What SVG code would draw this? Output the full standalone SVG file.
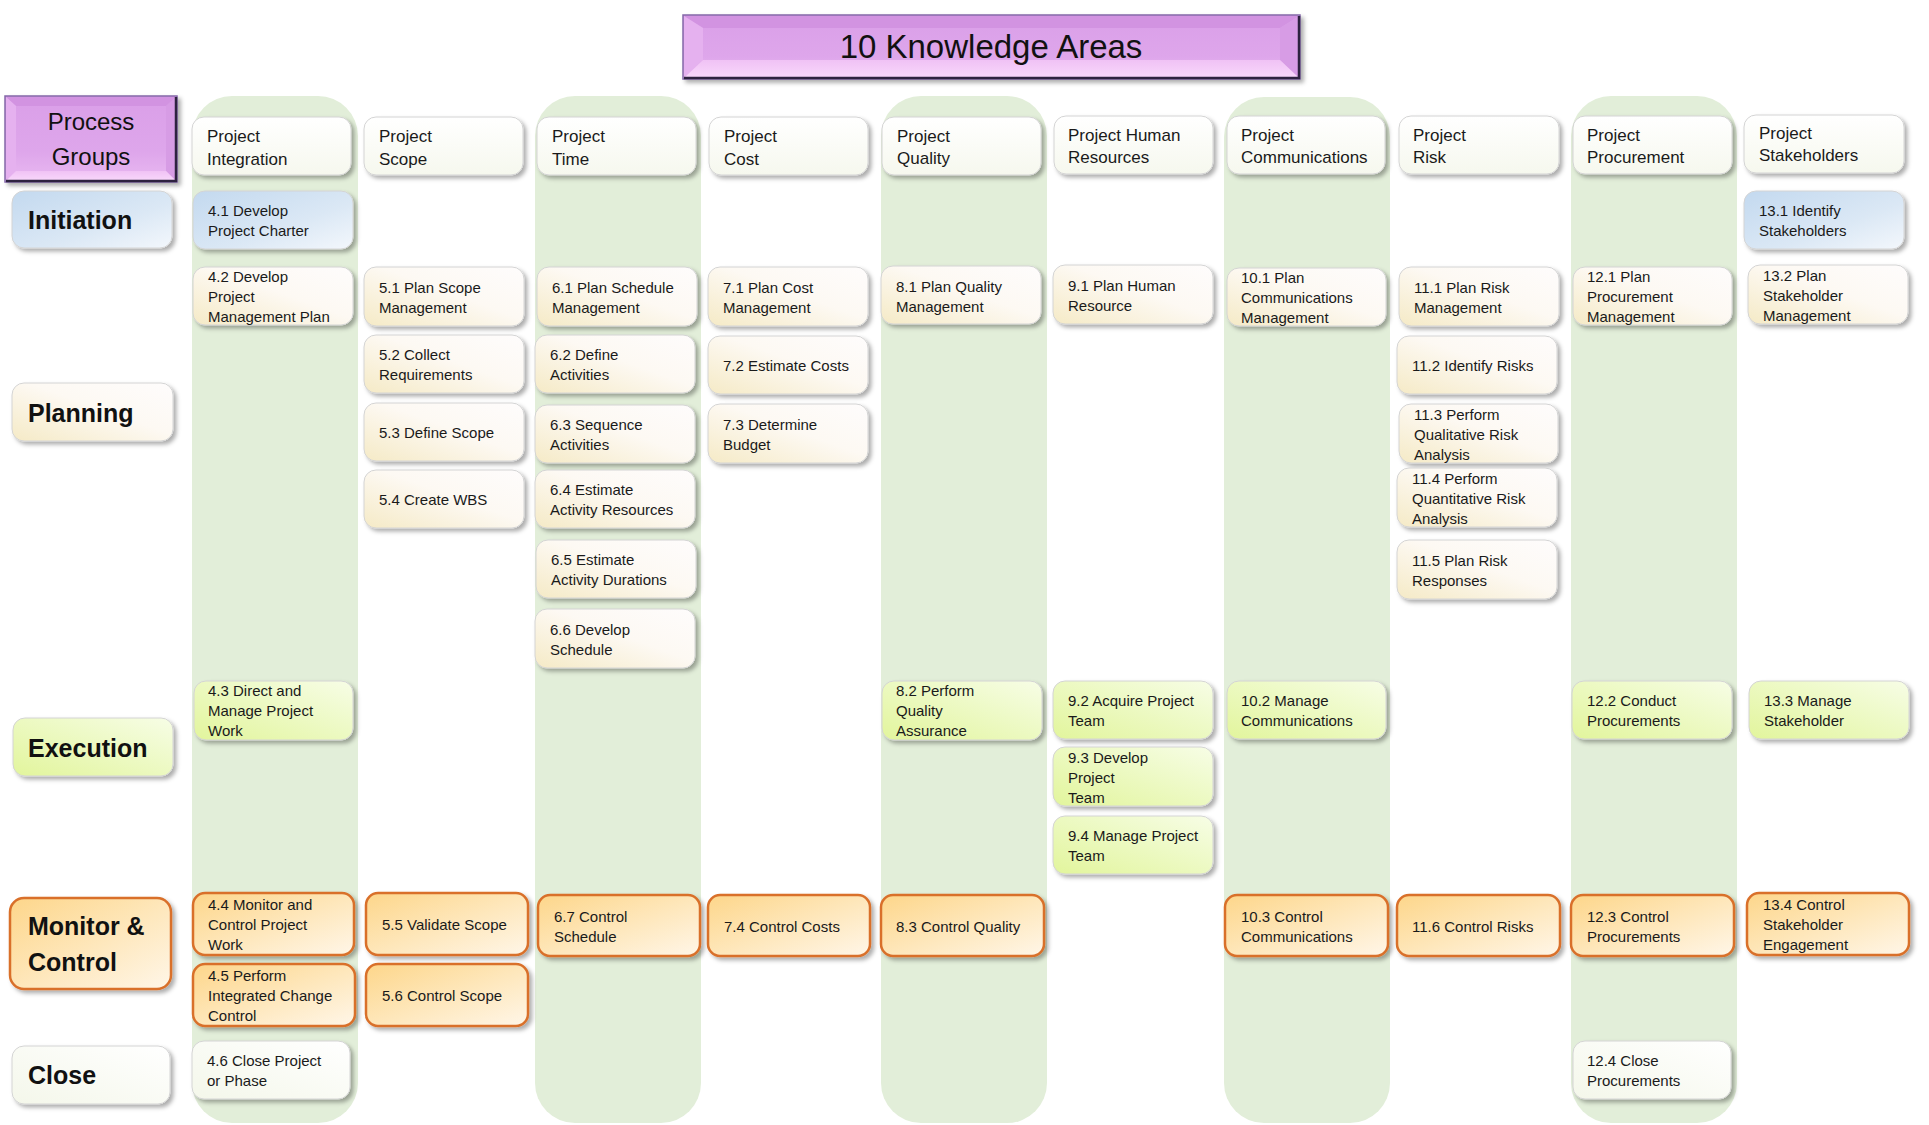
<svg xmlns="http://www.w3.org/2000/svg" width="1929" height="1125" viewBox="0 0 1929 1125">
<defs>
<filter id="sh" x="-10%" y="-10%" width="125%" height="135%">
<feDropShadow dx="3" dy="3" stdDeviation="2" flood-color="#000" flood-opacity="0.32"/>
</filter>
<linearGradient id="gHead" x1="0" y1="0" x2="0" y2="1"><stop offset="0" stop-color="#ffffff"/><stop offset="1" stop-color="#f6f8ee"/></linearGradient>
<linearGradient id="gPlan" x1="0" y1="1" x2="1" y2="0"><stop offset="0" stop-color="#f5eac6"/><stop offset="0.55" stop-color="#fdf9f3"/><stop offset="1" stop-color="#fefcfc"/></linearGradient>
<linearGradient id="gInit" x1="0" y1="0" x2="1" y2="1"><stop offset="0" stop-color="#c3d9ef"/><stop offset="0.6" stop-color="#dbe8f5"/><stop offset="1" stop-color="#f3f7fc"/></linearGradient>
<linearGradient id="gExec" x1="0" y1="1" x2="1" y2="0"><stop offset="0" stop-color="#e2f59c"/><stop offset="0.6" stop-color="#eefac8"/><stop offset="1" stop-color="#f7fde6"/></linearGradient>
<linearGradient id="gMon" x1="0" y1="0" x2="1" y2="1"><stop offset="0" stop-color="#fdd68a"/><stop offset="0.55" stop-color="#fee8be"/><stop offset="1" stop-color="#fff6e8"/></linearGradient>
<linearGradient id="gClose" x1="0" y1="1" x2="1" y2="0"><stop offset="0" stop-color="#f4f7ea"/><stop offset="1" stop-color="#ffffff"/></linearGradient>
<linearGradient id="gPurp" x1="0" y1="0" x2="0" y2="1"><stop offset="0" stop-color="#da9fe8"/><stop offset="0.65" stop-color="#dea6eb"/><stop offset="1" stop-color="#e9b9f1"/></linearGradient>
<linearGradient id="gBot" x1="0" y1="0" x2="0" y2="1"><stop offset="0" stop-color="#f0c2f5"/><stop offset="1" stop-color="#f9d8fb"/></linearGradient>
</defs>
<style>
.band{fill:#e2eed9}
.box{stroke:#d4d4d4;stroke-width:1;filter:url(#sh)}
.head{fill:url(#gHead)}
.plan{fill:url(#gPlan)}
.init{fill:url(#gInit)}
.exec{fill:url(#gExec)}
.close{fill:url(#gClose)}
.mon{fill:url(#gMon);stroke:#d9702a;stroke-width:2.5}
.bvt{fill:#d293e1}
.bvl{fill:#e5b1ef}
.bvr{fill:#d79ce5}
.bvb{fill:url(#gBot)}
.pout{fill:url(#gPurp);stroke:#8468a8;stroke-width:1.5}
.pedge{fill:none;stroke:#2e2440;stroke-width:2.5}
.t{font-family:"Liberation Sans",Arial,sans-serif;font-size:15px;fill:#1a1a1a}
.th{font-family:"Liberation Sans",Arial,sans-serif;font-size:17px;fill:#1a1a1a}
.tl{font-family:"Liberation Sans",Arial,sans-serif;font-size:25px;font-weight:bold;fill:#111}
.tp{font-family:"Liberation Sans",Arial,sans-serif;font-size:24px;fill:#111}
.tt{font-family:"Liberation Sans",Arial,sans-serif;font-size:33px;fill:#111}
</style>
<g id="columns">
<rect class="band" x="192" y="96" width="166" height="1027" rx="40"/>
<rect class="band" x="535" y="96" width="166" height="1027" rx="40"/>
<rect class="band" x="881" y="96" width="166" height="1027" rx="40"/>
<rect class="band" x="1224" y="97" width="166" height="1026" rx="40"/>
<rect class="band" x="1571" y="96" width="166" height="1027" rx="40"/>
</g>
<g id="connectors"/>
<g id="title">
<g filter="url(#sh)">
<rect class="pout" x="683" y="15" width="617" height="64"/>
<polygon class="bvt" points="684,16 1299,16 1280,28 703,28"/>
<polygon class="bvl" points="684,16 703,28 703,60 684,78"/>
<polygon class="bvr" points="1299,16 1299,78 1280,60 1280,28"/>
<polygon class="bvb" points="684,78 1299,78 1280,60 703,60"/>
<polyline class="pedge" points="1299,16 1299,78 684,78"/>
</g>
<text class="tt" x="991" y="58" text-anchor="middle">10 Knowledge Areas</text>
</g>
<g id="process-groups">
<g filter="url(#sh)">
<rect class="pout" x="5" y="96" width="172" height="86"/>
<polygon class="bvt" points="6,97 176,97 166,106 16,106"/>
<polygon class="bvl" points="6,97 16,106 16,171 6,181"/>
<polygon class="bvr" points="176,97 176,181 166,171 166,106"/>
<polygon class="bvb" points="6,181 176,181 166,171 16,171"/>
<polyline class="pedge" points="176,97 176,181 6,181"/>
</g>
<text class="tp" text-anchor="middle"><tspan x="91" y="130">Process</tspan><tspan x="91" y="165">Groups</tspan></text>
</g>
<g id="lbl-initiation"><rect class="box init" x="12" y="191" width="160" height="57" rx="12"/><text class="tl" x="28" y="229">Initiation</text></g>
<g id="lbl-planning"><rect class="box plan" x="12" y="383" width="161" height="58" rx="12"/><text class="tl" x="28" y="422">Planning</text></g>
<g id="lbl-execution"><rect class="box exec" x="13" y="718" width="160" height="58" rx="12"/><text class="tl" x="28" y="757">Execution</text></g>
<g id="lbl-monitor"><rect class="box mon" x="10" y="898" width="161" height="91" rx="14"/><text class="tl"><tspan x="28" y="935">Monitor &amp;</tspan><tspan x="28" y="971">Control</tspan></text></g>
<g id="lbl-close"><rect class="box close" x="12" y="1046" width="158" height="58" rx="12"/><text class="tl" x="28" y="1084">Close</text></g>

<g id="h-integration"><rect class="box head" x="192" y="117" width="159" height="58" rx="12"/><text class="th"><tspan x="207" y="142">Project</tspan><tspan x="207" y="165">Integration</tspan></text></g>
<g id="h-scope"><rect class="box head" x="364" y="117" width="159" height="58" rx="12"/><text class="th"><tspan x="379" y="142">Project</tspan><tspan x="379" y="165">Scope</tspan></text></g>
<g id="h-time"><rect class="box head" x="537" y="117" width="159" height="58" rx="12"/><text class="th"><tspan x="552" y="142">Project</tspan><tspan x="552" y="165">Time</tspan></text></g>
<g id="h-cost"><rect class="box head" x="709" y="117" width="159" height="58" rx="12"/><text class="th"><tspan x="724" y="142">Project</tspan><tspan x="724" y="165">Cost</tspan></text></g>
<g id="h-quality"><rect class="box head" x="882" y="117" width="159" height="58" rx="12"/><text class="th"><tspan x="897" y="142">Project</tspan><tspan x="897" y="164">Quality</tspan></text></g>
<g id="h-hr"><rect class="box head" x="1054" y="116" width="159" height="58" rx="12"/><text class="th"><tspan x="1068" y="141">Project Human</tspan><tspan x="1068" y="163">Resources</tspan></text></g>
<g id="h-comm"><rect class="box head" x="1227" y="116" width="158" height="58" rx="12"/><text class="th"><tspan x="1241" y="141">Project</tspan><tspan x="1241" y="163">Communications</tspan></text></g>
<g id="h-risk"><rect class="box head" x="1399" y="116" width="160" height="58" rx="12"/><text class="th"><tspan x="1413" y="141">Project</tspan><tspan x="1413" y="163">Risk</tspan></text></g>
<g id="h-procurement"><rect class="box head" x="1573" y="116" width="159" height="58" rx="12"/><text class="th"><tspan x="1587" y="141">Project</tspan><tspan x="1587" y="163">Procurement</tspan></text></g>
<g id="h-stakeholders"><rect class="box head" x="1744" y="115" width="160" height="58" rx="12"/><text class="th"><tspan x="1759" y="139">Project</tspan><tspan x="1759" y="161">Stakeholders</tspan></text></g>

<g id="p4-1"><rect class="box init" x="193" y="191" width="160" height="58" rx="12"/><text class="t"><tspan x="208" y="216">4.1 Develop</tspan><tspan x="208" y="236">Project Charter</tspan></text></g>
<g id="p13-1"><rect class="box init" x="1744" y="191" width="160" height="58" rx="12"/><text class="t"><tspan x="1759" y="216">13.1 Identify</tspan><tspan x="1759" y="236">Stakeholders</tspan></text></g>

<g id="p4-2"><rect class="box plan" x="193" y="267" width="160" height="58" rx="12"/><text class="t"><tspan x="208" y="282">4.2 Develop</tspan><tspan x="208" y="302">Project</tspan><tspan x="208" y="322">Management Plan</tspan></text></g>
<g id="p5-1"><rect class="box plan" x="364" y="267" width="160" height="59" rx="12"/><text class="t"><tspan x="379" y="293">5.1 Plan Scope</tspan><tspan x="379" y="313">Management</tspan></text></g>
<g id="p6-1"><rect class="box plan" x="537" y="267" width="160" height="59" rx="12"/><text class="t"><tspan x="552" y="293">6.1 Plan Schedule</tspan><tspan x="552" y="313">Management</tspan></text></g>
<g id="p7-1"><rect class="box plan" x="708" y="267" width="160" height="59" rx="12"/><text class="t"><tspan x="723" y="293">7.1 Plan Cost</tspan><tspan x="723" y="313">Management</tspan></text></g>
<g id="p8-1"><rect class="box plan" x="881" y="266" width="160" height="58" rx="12"/><text class="t"><tspan x="896" y="292">8.1 Plan Quality</tspan><tspan x="896" y="312">Management</tspan></text></g>
<g id="p9-1"><rect class="box plan" x="1053" y="265" width="160" height="59" rx="12"/><text class="t"><tspan x="1068" y="291">9.1 Plan Human</tspan><tspan x="1068" y="311">Resource</tspan></text></g>
<g id="p10-1"><rect class="box plan" x="1227" y="268" width="159" height="58" rx="12"/><text class="t"><tspan x="1241" y="283">10.1 Plan</tspan><tspan x="1241" y="303">Communications</tspan><tspan x="1241" y="323">Management</tspan></text></g>
<g id="p11-1"><rect class="box plan" x="1399" y="267" width="160" height="59" rx="12"/><text class="t"><tspan x="1414" y="293">11.1 Plan Risk</tspan><tspan x="1414" y="313">Management</tspan></text></g>
<g id="p12-1"><rect class="box plan" x="1573" y="267" width="159" height="58" rx="12"/><text class="t"><tspan x="1587" y="282">12.1 Plan</tspan><tspan x="1587" y="302">Procurement</tspan><tspan x="1587" y="322">Management</tspan></text></g>
<g id="p13-2"><rect class="box plan" x="1748" y="265" width="160" height="59" rx="12"/><text class="t"><tspan x="1763" y="281">13.2 Plan</tspan><tspan x="1763" y="301">Stakeholder</tspan><tspan x="1763" y="321">Management</tspan></text></g>

<g id="p5-2"><rect class="box plan" x="364" y="335" width="160" height="58" rx="12"/><text class="t"><tspan x="379" y="360">5.2 Collect</tspan><tspan x="379" y="380">Requirements</tspan></text></g>
<g id="p5-3"><rect class="box plan" x="364" y="403" width="160" height="58" rx="12"/><text class="t" x="379" y="438">5.3 Define Scope</text></g>
<g id="p5-4"><rect class="box plan" x="364" y="470" width="160" height="58" rx="12"/><text class="t" x="379" y="505">5.4 Create WBS</text></g>
<g id="p6-2"><rect class="box plan" x="535" y="335" width="160" height="58" rx="12"/><text class="t"><tspan x="550" y="360">6.2 Define</tspan><tspan x="550" y="380">Activities</tspan></text></g>
<g id="p6-3"><rect class="box plan" x="535" y="405" width="160" height="58" rx="12"/><text class="t"><tspan x="550" y="430">6.3 Sequence</tspan><tspan x="550" y="450">Activities</tspan></text></g>
<g id="p6-4"><rect class="box plan" x="535" y="470" width="160" height="58" rx="12"/><text class="t"><tspan x="550" y="495">6.4 Estimate</tspan><tspan x="550" y="515">Activity Resources</tspan></text></g>
<g id="p6-5"><rect class="box plan" x="536" y="540" width="160" height="58" rx="12"/><text class="t"><tspan x="551" y="565">6.5 Estimate</tspan><tspan x="551" y="585">Activity Durations</tspan></text></g>
<g id="p6-6"><rect class="box plan" x="535" y="609" width="160" height="59" rx="12"/><text class="t"><tspan x="550" y="635">6.6 Develop</tspan><tspan x="550" y="655">Schedule</tspan></text></g>
<g id="p7-2"><rect class="box plan" x="708" y="336" width="160" height="58" rx="12"/><text class="t" x="723" y="371">7.2 Estimate Costs</text></g>
<g id="p7-3"><rect class="box plan" x="708" y="404" width="160" height="59" rx="12"/><text class="t"><tspan x="723" y="430">7.3 Determine</tspan><tspan x="723" y="450">Budget</tspan></text></g>
<g id="p11-2"><rect class="box plan" x="1397" y="336" width="160" height="58" rx="12"/><text class="t" x="1412" y="371">11.2 Identify Risks</text></g>
<g id="p11-3"><rect class="box plan" x="1399" y="404" width="159" height="59" rx="12"/><text class="t"><tspan x="1414" y="420">11.3 Perform</tspan><tspan x="1414" y="440">Qualitative Risk</tspan><tspan x="1414" y="460">Analysis</tspan></text></g>
<g id="p11-4"><rect class="box plan" x="1397" y="468" width="160" height="59" rx="12"/><text class="t"><tspan x="1412" y="484">11.4 Perform</tspan><tspan x="1412" y="504">Quantitative Risk</tspan><tspan x="1412" y="524">Analysis</tspan></text></g>
<g id="p11-5"><rect class="box plan" x="1397" y="540" width="160" height="59" rx="12"/><text class="t"><tspan x="1412" y="566">11.5 Plan Risk</tspan><tspan x="1412" y="586">Responses</tspan></text></g>

<g id="p4-3"><rect class="box exec" x="194" y="681" width="159" height="59" rx="12"/><text class="t"><tspan x="208" y="696">4.3 Direct and</tspan><tspan x="208" y="716">Manage Project</tspan><tspan x="208" y="736">Work</tspan></text></g>
<g id="p8-2"><rect class="box exec" x="882" y="681" width="160" height="59" rx="12"/><text class="t"><tspan x="896" y="696">8.2 Perform</tspan><tspan x="896" y="716">Quality</tspan><tspan x="896" y="736">Assurance</tspan></text></g>
<g id="p9-2"><rect class="box exec" x="1053" y="681" width="160" height="58" rx="12"/><text class="t"><tspan x="1068" y="706">9.2 Acquire Project</tspan><tspan x="1068" y="726">Team</tspan></text></g>
<g id="p9-3"><rect class="box exec" x="1053" y="747" width="160" height="59" rx="12"/><text class="t"><tspan x="1068" y="763">9.3 Develop</tspan><tspan x="1068" y="783">Project</tspan><tspan x="1068" y="803">Team</tspan></text></g>
<g id="p9-4"><rect class="box exec" x="1053" y="816" width="160" height="58" rx="12"/><text class="t"><tspan x="1068" y="841">9.4 Manage Project</tspan><tspan x="1068" y="861">Team</tspan></text></g>
<g id="p10-2"><rect class="box exec" x="1227" y="681" width="159" height="58" rx="12"/><text class="t"><tspan x="1241" y="706">10.2 Manage</tspan><tspan x="1241" y="726">Communications</tspan></text></g>
<g id="p12-2"><rect class="box exec" x="1572" y="681" width="160" height="58" rx="12"/><text class="t"><tspan x="1587" y="706">12.2 Conduct</tspan><tspan x="1587" y="726">Procurements</tspan></text></g>
<g id="p13-3"><rect class="box exec" x="1749" y="681" width="160" height="58" rx="12"/><text class="t"><tspan x="1764" y="706">13.3 Manage</tspan><tspan x="1764" y="726">Stakeholder</tspan></text></g>

<g id="p4-4"><rect class="box mon" x="193" y="893" width="161" height="62" rx="12"/><text class="t"><tspan x="208" y="910">4.4 Monitor and</tspan><tspan x="208" y="930">Control Project</tspan><tspan x="208" y="950">Work</tspan></text></g>
<g id="p5-5"><rect class="box mon" x="366" y="893" width="162" height="62" rx="12"/><text class="t" x="382" y="930">5.5 Validate Scope</text></g>
<g id="p6-7"><rect class="box mon" x="538" y="895" width="162" height="61" rx="12"/><text class="t"><tspan x="554" y="922">6.7 Control</tspan><tspan x="554" y="942">Schedule</tspan></text></g>
<g id="p7-4"><rect class="box mon" x="708" y="895" width="162" height="61" rx="12"/><text class="t" x="724" y="932">7.4 Control Costs</text></g>
<g id="p8-3"><rect class="box mon" x="881" y="895" width="163" height="61" rx="12"/><text class="t" x="896" y="932">8.3 Control Quality</text></g>
<g id="p10-3"><rect class="box mon" x="1225" y="895" width="163" height="61" rx="12"/><text class="t"><tspan x="1241" y="922">10.3 Control</tspan><tspan x="1241" y="942">Communications</tspan></text></g>
<g id="p11-6"><rect class="box mon" x="1397" y="895" width="163" height="61" rx="12"/><text class="t" x="1412" y="932">11.6 Control Risks</text></g>
<g id="p12-3"><rect class="box mon" x="1571" y="895" width="163" height="61" rx="12"/><text class="t"><tspan x="1587" y="922">12.3 Control</tspan><tspan x="1587" y="942">Procurements</tspan></text></g>
<g id="p13-4"><rect class="box mon" x="1747" y="893" width="162" height="62" rx="12"/><text class="t"><tspan x="1763" y="910">13.4 Control</tspan><tspan x="1763" y="930">Stakeholder</tspan><tspan x="1763" y="950">Engagement</tspan></text></g>
<g id="p4-5"><rect class="box mon" x="193" y="964" width="162" height="62" rx="12"/><text class="t"><tspan x="208" y="981">4.5 Perform</tspan><tspan x="208" y="1001">Integrated Change</tspan><tspan x="208" y="1021">Control</tspan></text></g>
<g id="p5-6"><rect class="box mon" x="366" y="964" width="162" height="62" rx="12"/><text class="t" x="382" y="1001">5.6 Control Scope</text></g>

<g id="p4-6"><rect class="box close" x="192" y="1041" width="158" height="58" rx="12"/><text class="t"><tspan x="207" y="1066">4.6 Close Project</tspan><tspan x="207" y="1086">or Phase</tspan></text></g>
<g id="p12-4"><rect class="box close" x="1573" y="1041" width="158" height="58" rx="12"/><text class="t"><tspan x="1587" y="1066">12.4 Close</tspan><tspan x="1587" y="1086">Procurements</tspan></text></g>
</svg>
